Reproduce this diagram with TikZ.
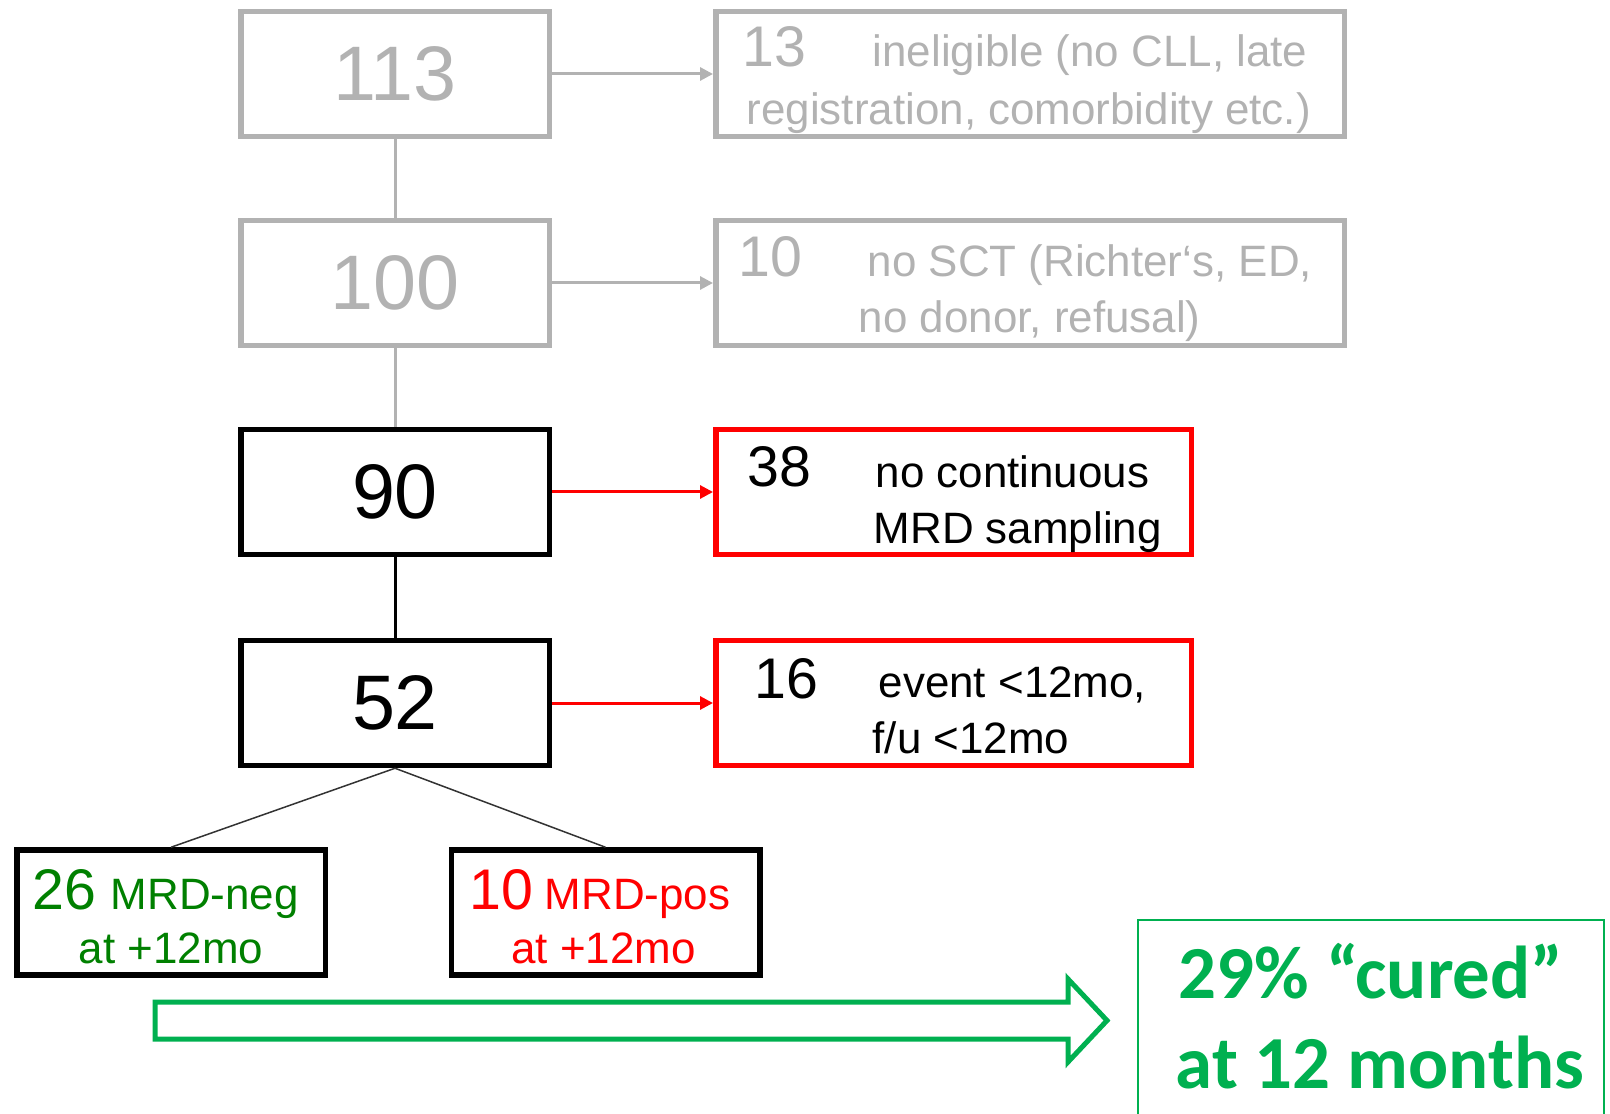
\documentclass[tikz,border=0pt]{standalone}
\usepackage{fontspec}
\setmainfont{Liberation Sans}
\newfontfamily\calibfont{Carlito}
\usetikzlibrary{arrows.meta}

\begin{document}
\begin{tikzpicture}[x=0.1mm,y=-0.1mm,
  stage/.style={draw,line width=0.55mm,minimum width=30.85mm,minimum height=12.5mm,inner sep=0pt},
  side/.style={draw,line width=0.55mm,minimum height=12.5mm,inner sep=0pt},
  big/.style={font=\fontsize{22}{26}\selectfont},
  cnt/.style={anchor=base west,inner sep=0pt,font=\fontsize{16.3}{19}\selectfont},
  txt/.style={anchor=base west,inner sep=0pt,font=\fontsize{12.5}{15}\selectfont},
  link/.style={line width=0.3mm},
  outarrow/.style={line width=0.3mm,-{Triangle[length=1.3mm,width=1.3mm]}}]
  \definecolor{grayline}{HTML}{B2B2B2}
  \definecolor{redline}{HTML}{FF0000}
  \definecolor{darkgreen}{HTML}{008000}
  \definecolor{cureg}{HTML}{00B050}

  \useasboundingbox (0,0) rectangle (1610,1114);

  % main column
  \node[stage,draw=grayline,text=grayline,big] (n113) at (395,74) {113};
  \node[stage,draw=grayline,text=grayline,big] (n100) at (395,283) {100};
  \node[stage,big] (n90) at (395,492) {90};
  \node[stage,big] (n52) at (395,703) {52};

  % excluded
  \node[side,draw=grayline,minimum width=62.85mm] (x13) at (1030,74) {};
  \node[side,draw=grayline,minimum width=62.85mm] (x10) at (1030,283) {};
  \node[side,draw=redline,minimum width=47.55mm] (x38) at (953.5,492) {};
  \node[side,draw=redline,minimum width=47.55mm] (x16) at (953.5,703) {};

  \node[cnt,text=grayline] (c13) at (742,67) {13};
  \node[txt,text=grayline] (t13a) at (872,67) {ineligible (no CLL, late};
  \node[txt,text=grayline] (t13b) at (746,125) {registration, comorbidity etc.)};
  \node[cnt,text=grayline] (c10) at (738,277) {10};
  \node[txt,text=grayline] (t10a) at (867,277) {no SCT (Richter‘s, ED,};
  \node[txt,text=grayline] (t10b) at (858,333) {no donor, refusal)};
  \node[cnt] (c38) at (747,487) {38};
  \node[txt] (t38a) at (875,488) {no continuous};
  \node[txt] (t38b) at (873,544) {MRD sampling};
  \node[cnt] (c16) at (754,698) {16};
  \node[txt] (t16a) at (878,697) {event <12mo,};
  \node[txt] (t16b) at (872,753) {f/u <12mo};

  % MRD status
  \node[stage] (neg) at (171,912.5) {};
  \node[stage] (pos) at (605.5,912.5) {};
  \node[cnt,text=darkgreen] (c26) at (32,909) {26};
  \node[txt,text=darkgreen] (t26a) at (110,909) {MRD-neg};
  \node[txt,anchor=base,text=darkgreen] (t26b) at (171,963) {at +12mo};
  \node[cnt,text=redline] (cpos) at (469,909) {10};
  \node[txt,text=redline] (tposa) at (544,909) {MRD-pos};
  \node[txt,anchor=base,text=redline] (tposb) at (603.5,963) {at +12mo};

  % connectors
  \draw[link,grayline] (n113) -- (n100);
  \draw[link,grayline] (n100) -- (n90);
  \draw[link] (n90) -- (n52);
  \draw[line width=0.15mm,black!80] (n52.south) -- (neg.north);
  \draw[line width=0.15mm,black!80] (n52.south) -- (pos.north);
  \draw[outarrow,grayline] (n113) -- (x13);
  \draw[outarrow,grayline] (n100) -- (x10);
  \draw[outarrow,redline] (n90) -- (x38);
  \draw[outarrow,redline] (n52) -- (x16);

  % result
  \draw[cureg,line width=0.5mm] (155,1002) -- (1068,1002) -- (1068,979)
    -- (1107,1020.5) -- (1068,1062) -- (1068,1039) -- (155,1039) -- cycle;
  \node[draw=cureg,line width=0.2mm,minimum width=46.6mm,minimum height=23mm,
    anchor=north] (cure) at (1371,919) {};
  \node[anchor=base,inner sep=0pt,text=cureg,
    font=\calibfont\bfseries\fontsize{21.3}{25}\selectfont] (curea) at (1371,998) {29\% “cured”};
  \node[anchor=base,inner sep=0pt,text=cureg,
    font=\calibfont\bfseries\fontsize{21.3}{25}\selectfont] (cureb) at (1380,1088) {at 12 months};
\end{tikzpicture}
\end{document}
